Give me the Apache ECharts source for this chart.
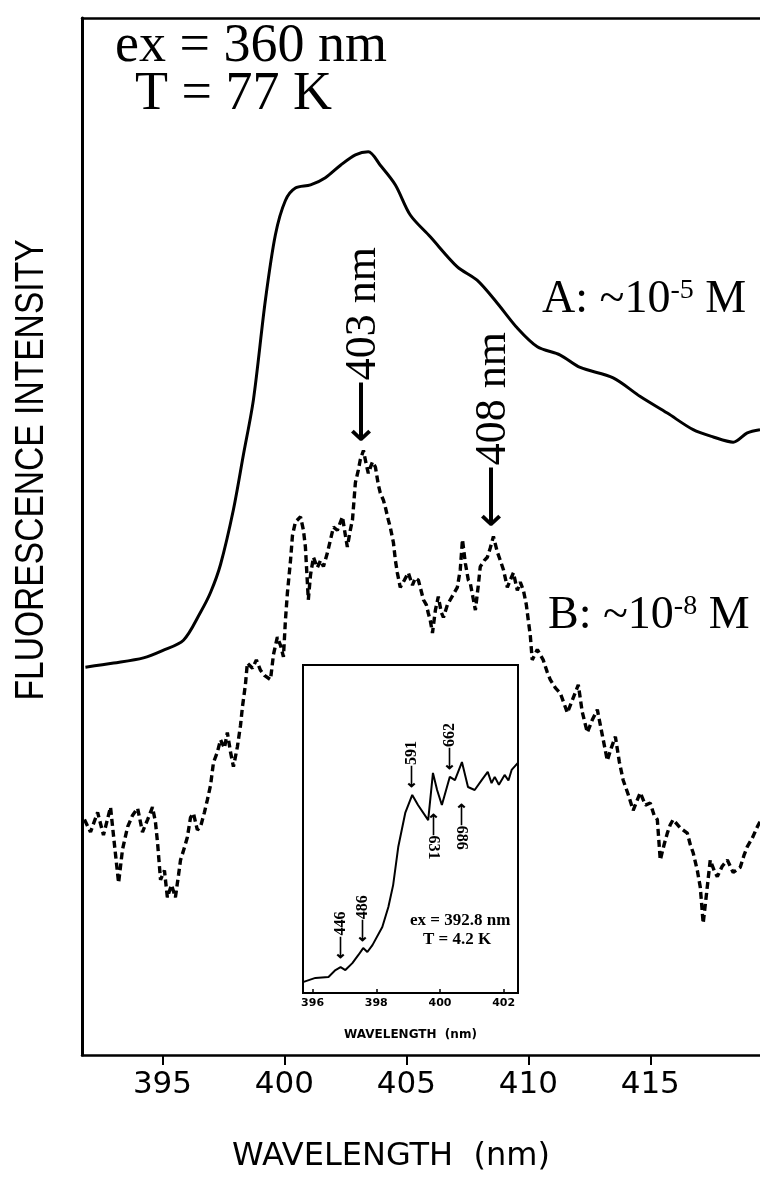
<!DOCTYPE html>
<html>
<head>
<meta charset="utf-8">
<script src="https://cdn.jsdelivr.net/npm/echarts@6/dist/echarts.min.js"></script>
<style>
  html, body { margin: 0; padding: 0; background: #fff; overflow: hidden; }
  #main { width: 760px; height: 1190px; }
</style>
</head>
<body>
<div id="main"></div>
<script>
// curve A (~1e-5 M), solid
const wavelengthA = [391.84, 393.0, 394.22, 395.0, 395.86, 396.56, 396.97, 397.38, 397.91, 398.32, 398.73, 399.22, 399.63, 400.04, 400.45, 401.07, 401.68, 402.30, 402.91, 403.44, 403.93, 404.55, 405.16, 405.98, 407.09, 407.91, 408.73, 409.55, 410.37, 411.31, 412.13, 413.48, 414.59, 415.70, 416.76, 417.58, 418.40, 418.98, 419.50];
const intensityA = [37.4, 37.8, 38.3, 39.0, 40.0, 42.7, 44.6, 47.3, 52.6, 57.9, 63.2, 72.8, 79.1, 82.4, 83.6, 83.9, 84.6, 85.8, 86.8, 87.1, 85.8, 83.9, 81.0, 78.9, 76.0, 74.7, 72.5, 70.1, 68.3, 67.5, 66.3, 65.3, 63.5, 61.9, 60.3, 59.6, 59.1, 60.0, 60.3];

// curve B (~1e-8 M), dashed and noisy
const wavelengthB = [391.80, 392.05, 392.34, 392.58, 392.87, 393.03, 393.20, 393.36, 393.57, 393.77,
  393.98, 394.18, 394.39, 394.59, 394.71, 394.80, 394.92, 395.08, 395.20, 395.37,
  395.53, 395.66, 395.74, 395.90, 396.02, 396.15, 396.27, 396.43, 396.56, 396.72,
  396.84, 396.97, 397.09, 397.25, 397.38, 397.54, 397.66, 397.79, 397.91, 398.07,
  398.20, 398.28, 398.40, 398.48, 398.69, 398.85, 399.02, 399.18, 399.43, 399.55,
  399.71, 399.84, 399.96, 400.04, 400.12, 400.25, 400.33, 400.45, 400.66, 400.78,
  400.86, 400.98, 401.07, 401.19, 401.35, 401.48, 401.60, 401.76, 401.89, 402.01,
  402.17, 402.38, 402.50, 402.58, 402.70, 402.79, 402.91, 403.03, 403.11, 403.24,
  403.36, 403.44, 403.61, 403.73, 403.85, 403.93, 404.06, 404.14, 404.26, 404.34,
  404.47, 404.55, 404.63, 404.75, 404.92, 405.08, 405.25, 405.37, 405.49, 405.57,
  405.70, 405.82, 405.90, 405.98, 406.07, 406.19, 406.31, 406.43, 406.52, 406.68,
  406.80, 406.97, 407.09, 407.21, 407.30, 407.42, 407.54, 407.62, 407.75, 407.83,
  407.95, 408.03, 408.20, 408.32, 408.44, 408.57, 408.73, 408.85, 408.98, 409.14,
  409.26, 409.39, 409.55, 409.67, 409.80, 409.92, 410.00, 410.08, 410.16, 410.37,
  410.61, 410.78, 410.90, 411.11, 411.31, 411.48, 411.60, 411.80, 412.05, 412.21,
  412.42, 412.62, 412.83, 413.03, 413.24, 413.40, 413.57, 413.73, 413.89, 414.10,
  414.30, 414.47, 414.59, 414.80, 415.00, 415.16, 415.29, 415.41, 415.57, 415.70,
  415.82, 415.94, 416.23, 416.52, 416.64, 416.76, 416.93, 417.05, 417.17, 417.30,
  417.46, 417.62, 417.75, 417.95, 418.16, 418.40, 418.69, 418.85, 418.98, 419.18,
  419.39, 419.50];
const intensityB = [22.7, 21.5, 23.4, 21.2, 23.9, 20.3, 16.6, 19.8, 22.0, 23.1,
  23.8, 21.5, 22.7, 23.9, 22.5, 20.4, 16.9, 17.8, 15.2, 16.4,
  15.2, 17.4, 18.8, 20.0, 21.0, 22.9, 23.3, 21.7, 22.0, 23.4,
  24.6, 26.0, 28.2, 29.2, 30.4, 29.6, 31.1, 29.2, 27.8, 29.7,
  31.8, 33.6, 35.7, 37.8, 37.3, 38.1, 37.1, 36.6, 36.2, 38.6,
  40.3, 39.5, 38.4, 41.9, 44.5, 47.7, 50.1, 51.4, 51.9, 50.6,
  49.0, 43.9, 46.3, 48.0, 47.0, 47.7, 47.1, 48.4, 49.7, 50.9,
  50.6, 51.9, 50.1, 49.0, 50.6, 51.6, 55.2, 56.4, 57.4, 58.3,
  56.9, 56.1, 57.2, 56.7, 55.0, 54.2, 53.5, 52.8, 51.6, 50.9,
  49.4, 47.7, 46.5, 45.1, 45.8, 46.5, 45.3, 46.0, 45.8, 45.1,
  43.9, 43.4, 42.6, 41.9, 40.7, 42.9, 44.2, 42.7, 42.2, 43.4,
  43.9, 44.6, 45.1, 46.8, 49.7, 47.4, 45.8, 45.5, 43.9, 42.9,
  45.3, 47.1, 47.7, 48.0, 48.9, 50.0, 48.5, 47.7, 46.8, 45.1,
  45.8, 46.5, 44.8, 45.6, 44.8, 43.4, 41.9, 40.5, 38.1, 39.1,
  38.1, 36.9, 36.2, 35.4, 34.9, 33.8, 33.0, 34.2, 35.7, 33.1,
  31.1, 32.3, 33.3, 30.9, 28.4, 29.6, 30.7, 28.3, 26.5, 25.1,
  23.6, 24.6, 25.3, 24.1, 24.3, 23.1, 22.7, 18.8, 20.3, 21.4,
  22.2, 22.7, 21.9, 21.4, 20.3, 19.5, 17.8, 16.2, 12.7, 15.4,
  18.8, 17.8, 17.2, 18.2, 18.8, 17.6, 18.1, 19.3, 20.1, 20.9,
  22.0, 22.5];

// inset: ex = 392.8 nm, T = 4.2 K
const insetWavelength = [395.72, 396.09, 396.50, 396.72, 396.88, 397.03, 397.25, 397.44, 397.59, 397.72, 397.88, 398.19, 398.38, 398.53, 398.69, 398.91, 399.13, 399.31, 399.63, 399.78, 399.91, 400.06, 400.31, 400.47, 400.69, 400.88, 401.09, 401.31, 401.50, 401.62, 401.72, 401.85, 402.03, 402.15, 402.25, 402.44];
const insetIntensity = [3.4, 4.6, 4.9, 7.0, 7.9, 7.0, 9.1, 11.6, 13.7, 12.5, 14.6, 20.1, 26.2, 32.9, 44.5, 54.9, 60.4, 57.3, 52.7, 67.1, 61.9, 57.3, 65.9, 64.9, 70.4, 62.8, 61.9, 64.9, 67.4, 64.0, 65.9, 63.5, 66.5, 64.8, 68.0, 70.1];

// tick labels
const mainTicks = [395, 400, 405, 410, 415];
const insetTicks = [396, 398, 400, 402];

// peak arrows
const peakLabels = ['403 nm', '408 nm'];
const peakWavelength = [403.24, 408.57];
const peakIntensity = [59.0, 50.8];

const insetNoteLabels = ['446', '486', '591', '662', '631', '686'];
const insetNoteWavelength = [396.88, 397.59, 399.13, 400.31, 399.80, 400.68];
const insetNoteIntensity = [10.5, 15.5, 62.5, 68.0, 55.0, 58.0];
const insetNotePointsDown = [true, true, true, true, false, false];

const serif = '"Liberation Serif", "Times New Roman", serif';
const sans = '"DejaVu Sans", sans-serif';

const chart = echarts.init(document.getElementById('main'));

chart.setOption({
  animation: false,
  backgroundColor: '#fff',
  grid: [
    // main plot: the original is cropped on the right, so no right border
    {left: 82, right: 0, top: 18, bottom: 135},
    {left: 303, right: 242, top: 665, bottom: 197, show: true, borderColor: '#000', borderWidth: 2, backgroundColor: '#fff'}
  ],
  xAxis: [
    {
      gridIndex: 0, type: 'value', min: 391.7, max: 419.5,
      axisLine: {show: true, onZero: false, lineStyle: {color: '#000', width: 2.5}},
      axisTick: {show: true, customValues: mainTicks, length: 10, lineStyle: {color: '#000', width: 2}},
      axisLabel: {customValues: mainTicks, color: '#000', fontFamily: sans, fontSize: 31, margin: 14},
      splitLine: {show: false},
      name: 'WAVELENGTH  (nm)', nameLocation: 'middle', nameGap: 86,
      nameTextStyle: {color: '#000', fontFamily: sans, fontSize: 32, padding: [0, 60, 0, 0]}
    },
    {
      gridIndex: 1, type: 'value', min: 395.7, max: 402.45,
      axisLine: {show: false, onZero: false},
      axisTick: {show: true, inside: true, customValues: insetTicks, length: 4, lineStyle: {color: '#000', width: 1.5}},
      axisLabel: {customValues: insetTicks, color: '#000', fontFamily: sans, fontWeight: 'bold', fontSize: 11, margin: 5},
      splitLine: {show: false},
      name: 'WAVELENGTH  (nm)', nameLocation: 'middle', nameGap: 36,
      nameTextStyle: {color: '#000', fontFamily: sans, fontWeight: 'bold', fontSize: 12}
    },
    {
      // top frame line of the main plot
      gridIndex: 0, type: 'value', position: 'top', min: 391.7, max: 419.5,
      axisLine: {show: true, onZero: false, lineStyle: {color: '#000', width: 2.5}},
      axisTick: {show: false}, axisLabel: {show: false}, splitLine: {show: false}
    }
  ],
  yAxis: [
    {
      gridIndex: 0, type: 'value', min: 0, max: 100,
      axisLine: {show: true, onZero: false, lineStyle: {color: '#000', width: 3}},
      axisTick: {show: false}, axisLabel: {show: false}, splitLine: {show: false}
    },
    {
      gridIndex: 1, type: 'value', min: 0, max: 100,
      axisLine: {show: false}, axisTick: {show: false}, axisLabel: {show: false}, splitLine: {show: false}
    }
  ],
  series: [
    {
      name: 'A', type: 'line', xAxisIndex: 0, yAxisIndex: 0,
      data: wavelengthA.map((x, i) => [x, intensityA[i]]),
      showSymbol: false, smooth: 0.3,
      lineStyle: {color: '#000', width: 3}
    },
    {
      name: 'B', type: 'line', xAxisIndex: 0, yAxisIndex: 0,
      data: wavelengthB.map((x, i) => [x, intensityB[i]]),
      showSymbol: false,
      lineStyle: {color: '#000', width: 3.4, type: [7, 4]},
      markPoint: {
        symbol: 'circle', symbolSize: 0,
        label: {
          show: true, position: 'inside', rotate: 90, align: 'left', verticalAlign: 'middle',
          color: '#000', fontFamily: serif, fontSize: 44,
          formatter: p => '\u27F5' + p.name
        },
        data: peakLabels.map((t, i) => ({name: t, coord: [peakWavelength[i], peakIntensity[i]]}))
      }
    },
    {
      name: 'inset', type: 'line', xAxisIndex: 1, yAxisIndex: 1,
      data: insetWavelength.map((x, i) => [x, insetIntensity[i]]),
      showSymbol: false,
      lineStyle: {color: '#000', width: 2},
      markPoint: {
        symbol: 'circle', symbolSize: 0,
        label: {
          show: true, position: 'inside', align: 'left', verticalAlign: 'middle',
          color: '#000', fontFamily: serif, fontWeight: 'bold', fontSize: 16,
          formatter: p => '\u27F5' + p.name
        },
        data: insetNoteLabels.map((t, i) => ({
          name: t,
          coord: [insetNoteWavelength[i], insetNoteIntensity[i]],
          label: {rotate: insetNotePointsDown[i] ? 90 : -90}
        }))
      }
    }
  ],
  graphic: [
    {
      type: 'text', x: 32, y: 470, rotation: Math.PI / 2, scaleX: 0.84,
      style: {text: 'FLUORESCENCE INTENSITY', fill: '#000', align: 'center', verticalAlign: 'middle',
        font: '40px "Liberation Sans", sans-serif'}
    },
    {
      type: 'text', x: 115, y: 47,
      style: {text: 'ex = 360 nm', fill: '#000', verticalAlign: 'middle', font: '54px ' + serif}
    },
    {
      type: 'text', x: 135, y: 95,
      style: {text: 'T = 77 K', fill: '#000', verticalAlign: 'middle', font: '54px ' + serif}
    },
    {
      type: 'text', x: 542, y: 300,
      style: {
        text: '{m|A: ~10}{s|-5}{m| M}', verticalAlign: 'middle',
        rich: {
          m: {fontFamily: serif, fontSize: 46, color: '#000', verticalAlign: 'bottom'},
          s: {fontFamily: serif, fontSize: 28, color: '#000', verticalAlign: 'top'}
        }
      }
    },
    {
      type: 'text', x: 548, y: 616,
      style: {
        text: '{m|B: ~10}{s|-8}{m| M}', verticalAlign: 'middle',
        rich: {
          m: {fontFamily: serif, fontSize: 46, color: '#000', verticalAlign: 'bottom'},
          s: {fontFamily: serif, fontSize: 28, color: '#000', verticalAlign: 'top'}
        }
      }
    },
    {
      type: 'text', x: 410, y: 921, z: 10,
      style: {text: 'ex = 392.8 nm', fill: '#000', verticalAlign: 'middle', font: 'bold 17px ' + serif}
    },
    {
      type: 'text', x: 423, y: 940, z: 10,
      style: {text: 'T = 4.2 K', fill: '#000', verticalAlign: 'middle', font: 'bold 17px ' + serif}
    }
  ]
});
</script>
</body>
</html>
